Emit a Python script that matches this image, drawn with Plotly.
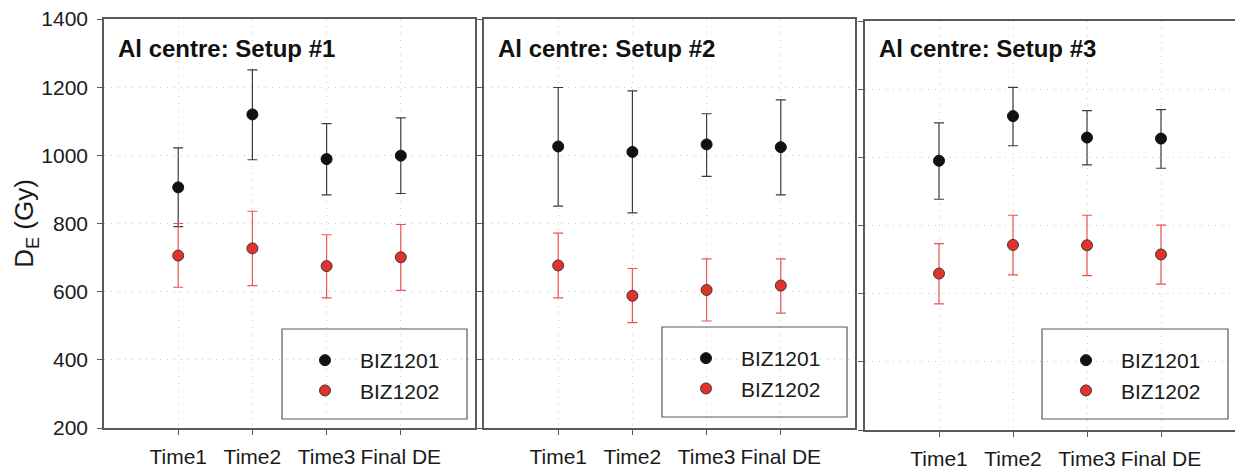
import plotly.graph_objects as go

W, H = 1235, 470

categories = ["Time1", "Time2", "Time3", "Final DE"]
cat_pos = [1, 2, 3, 4]
panel_titles = ["Al centre: Setup #1", "Al centre: Setup #2", "Al centre: Setup #3"]
series_names = ["BIZ1201", "BIZ1202"]

# BIZ1201 values, upper and lower error-bar ends, per panel
biz1201_val = [[906, 1120, 989, 999], [1026, 1010, 1032, 1024], [990, 1121, 1058, 1055]]
biz1201_hi = [[1022, 1251, 1093, 1110], [1199, 1189, 1122, 1163], [1101, 1205, 1137, 1140]]
biz1201_lo = [[791, 987, 884, 888], [851, 831, 938, 884], [877, 1034, 978, 968]]
# BIZ1202
biz1202_val = [[706, 727, 675, 701], [677, 588, 605, 618], [659, 743, 742, 715]]
biz1202_hi = [[800, 836, 767, 797], [772, 668, 696, 696], [747, 830, 830, 801]]
biz1202_lo = [[613, 618, 582, 604], [582, 509, 514, 537], [570, 655, 653, 628]]

y_ticks = [200, 400, 600, 800, 1000, 1200, 1400]

FONT = "Liberation Sans, Arial, sans-serif"
BLACK_FILL = "#111111"
BLACK_ERR = "#3c3c3c"
RED_FILL = "#e3312b"
RED_ERR = "#ec5450"
AXIS_COL = "#5a5a5a"
GRID_COL = "#c8c8c8"
TXT = "#1a1a1a"

# panel boxes in pixels (left, right, top, bottom)
boxes = [(104, 475, 19, 428), (484, 855, 19, 428), (865, 1235, 21, 430)]

fig = go.Figure()

for p in range(3):
    ax = "" if p == 0 else str(p + 1)
    leg = "legend" if p == 0 else f"legend{p + 1}"
    series = [
        (series_names[0], biz1201_val[p], biz1201_hi[p], biz1201_lo[p], BLACK_FILL, BLACK_ERR, BLACK_FILL),
        (series_names[1], biz1202_val[p], biz1202_hi[p], biz1202_lo[p], RED_FILL, RED_ERR, "#3a3a3a"),
    ]
    for name, vals, hi, lo, fill, errc, linec in series:
        fig.add_trace(go.Scatter(
            x=cat_pos, y=vals, mode="markers", name=name,
            xaxis="x" + ax, yaxis="y" + ax, legend=leg,
            marker=dict(size=11, color=fill, line=dict(color=linec, width=1)),
            error_y=dict(type="data", symmetric=False,
                         array=[h - v for h, v in zip(hi, vals)],
                         arrayminus=[v - l for v, l in zip(vals, lo)],
                         color=errc, thickness=1.2, width=5),
        ))

layout = dict(
    width=W, height=H,
    margin=dict(l=0, r=0, t=0, b=0, autoexpand=False),
    paper_bgcolor="white", plot_bgcolor="white",
    font=dict(family=FONT, size=21, color=TXT),
    showlegend=True,
)

shapes = []
annotations = []
legend_boxes = [(282, 467, 329, 419), (662, 847, 327, 417), (1042, 1228, 329, 419)]
legend_marker_x = [320, 701, 1081]
legend_first_y = [356, 354, 356]

for p in range(3):
    ax = "" if p == 0 else str(p + 1)
    l, r, t, b = boxes[p]
    xd = [l / W, r / W]
    yd = [1 - b / H, 1 - t / H]
    layout["xaxis" + ax] = dict(
        domain=xd, range=[0, 5], tickvals=cat_pos, ticktext=categories,
        showline=True, mirror=True, linecolor=AXIS_COL, linewidth=1.6,
        ticks="outside", ticklen=5, tickcolor=AXIS_COL, tickwidth=1,
        showgrid=True, gridcolor=GRID_COL, griddash="1px,6px", gridwidth=1,
        zeroline=False, anchor="y" + ax, fixedrange=True, automargin=False,
        tickangle=0, tickfont=dict(size=21, color=TXT), ticklabelstandoff=4,
    )
    yax = dict(
        domain=yd, range=[200, 1400], tickvals=y_ticks,
        showline=True, mirror=True, linecolor=AXIS_COL, linewidth=1.6,
        ticks="outside", ticklen=5, tickcolor=AXIS_COL, tickwidth=1,
        showgrid=True, gridcolor=GRID_COL, griddash="1px,6px", gridwidth=1,
        zeroline=False, anchor="x" + ax, fixedrange=True, automargin=False,
        showticklabels=(p == 0),
        tickfont=dict(size=21, color=TXT),
    )
    if p == 0:
        yax["ticklabelstandoff"] = 5
        yax["title"] = dict(text="D<sub>E</sub> (Gy)", font=dict(size=26, color=TXT), standoff=0)
    layout["yaxis" + ax] = yax

    annotations.append(dict(
        text="<b>" + panel_titles[p] + "</b>", xref="paper", yref="paper",
        x=(l + 12) / W, y=1 - 48 / H, xanchor="left", yanchor="middle",
        showarrow=False, font=dict(size=24, color="#111111"),
    ))

    bl, br, bt, bb = legend_boxes[p]
    shapes.append(dict(type="rect", xref="paper", yref="paper",
                       x0=bl / W, x1=br / W, y0=1 - bb / H, y1=1 - bt / H,
                       line=dict(color=AXIS_COL, width=1.2), fillcolor="rgba(0,0,0,0)"))

    leg = "legend" if p == 0 else f"legend{p + 1}"
    layout[leg] = dict(
        x=(legend_marker_x[p] - 30) / W, y=1 - (legend_first_y[p] - 16) / H,
        xanchor="left", yanchor="top", bgcolor="rgba(0,0,0,0)", borderwidth=0,
        font=dict(size=21, color=TXT), itemwidth=60, tracegroupgap=0,
    )

layout["shapes"] = shapes
layout["annotations"] = annotations
fig.update_layout(**layout)

fig.write_html("out.html", config={"displayModeBar": False},
               post_script="document.body.style.margin='0px';")
